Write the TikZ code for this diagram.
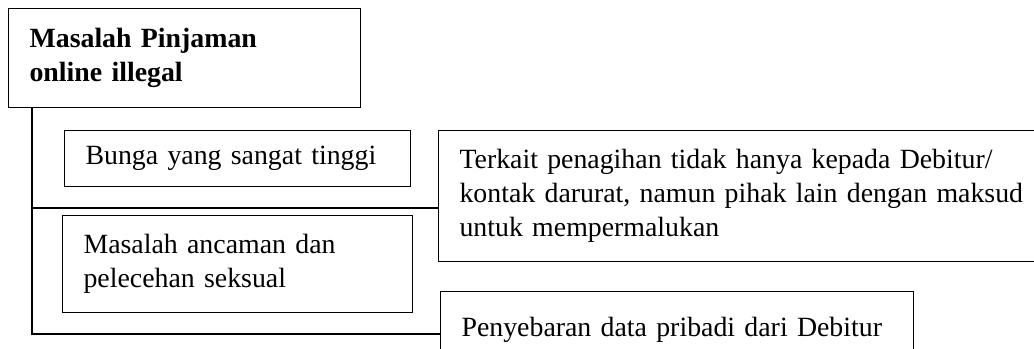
\documentclass[tikz,border=0pt]{standalone}
\usepackage{fontspec}
\setmainfont{Liberation Serif}
\usepackage{tikz}

\begin{document}
\begin{tikzpicture}[
  box/.style={rectangle, draw, line width=0.8pt, align=left, anchor=north west,
              inner xsep=0.525cm, inner ysep=0pt,
              font=\fontsize{19.8}{24.1}\selectfont},
  link/.style={line width=0.8pt}]
  \clip (0,0) rectangle (25.85,-8.725);
  \node[box, text width=7.75cm, minimum height=2.475cm, font=\fontsize{19.8}{24.1}\selectfont\bfseries]
       (masalah) at (0.2,-0.2) {Masalah Pinjaman\\online illegal};
  \node[box, text width=7.6cm, minimum height=1.4cm] (bunga) at (1.6,-3.25)
       {Bunga yang sangat tinggi};
  \node[box, text width=14.1cm, minimum height=3.275cm] (tagih) at (10.95,-3.25)
       {Terkait penagihan tidak hanya kepada Debitur/\\
        kontak darurat, namun pihak lain dengan maksud\\
        untuk mempermalukan};
  \node[box, text width=7.7cm, minimum height=2.425cm] (ancam) at (1.55,-5.375)
       {Masalah ancaman dan\\pelecehan seksual};
  \node[box, text width=10.775cm, minimum height=1.9cm] (data) at (11.0,-7.275)
       {Penyebaran data pribadi dari Debitur};
  \coordinate (j1) at (0.8,-5.2);
  \coordinate (j2) at (0.8,-8.35);
  \draw[link] (masalah.south -| j1) -- (j2) -- (j2 -| data.west);
  \draw[link] (j1) -- (j1 -| tagih.west);
\end{tikzpicture}
\end{document}
